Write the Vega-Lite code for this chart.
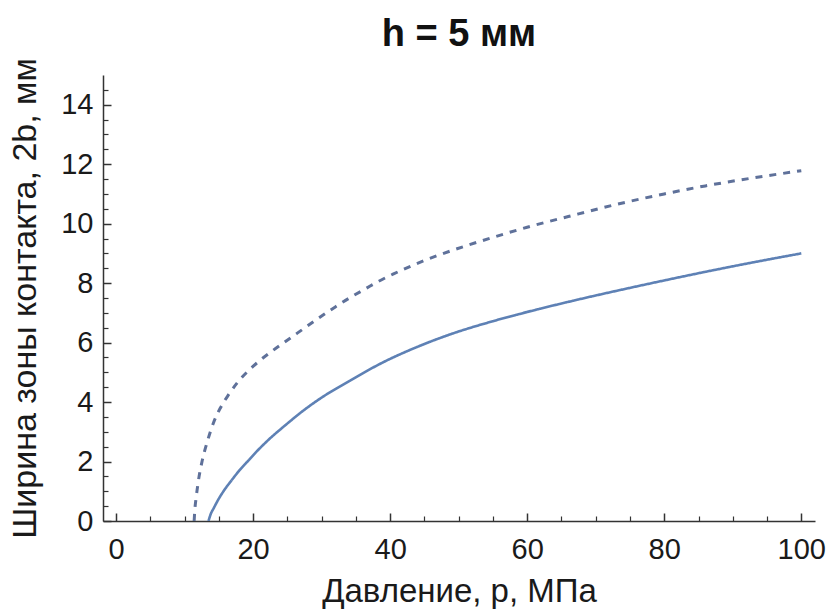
{
  "$schema": "https://vega.github.io/schema/vega-lite/v6.json",
  "width": 712,
  "height": 446,
  "autosize": {"type": "none"},
  "padding": {"left": 103, "top": 75, "right": 16, "bottom": 92},
  "background": "white",
  "title": {
    "text": "h = 5 мм",
    "font": "Liberation Sans",
    "fontSize": 38,
    "fontWeight": "bold",
    "color": "#111111",
    "anchor": "middle",
    "offset": 4
  },
  "config": {
    "view": {"stroke": null},
    "axis": {
      "labelFont": "Liberation Sans",
      "titleFont": "Liberation Sans",
      "labelColor": "#1a1a1a",
      "titleColor": "#1a1a1a",
      "domainColor": "#333333",
      "tickColor": "#333333",
      "grid": false
    }
  },
  "data": {
    "values": [
      {"p": 13.5, "b": 0, "s": "solid"},
      {"p": 13.8, "b": 0.22, "s": "solid"},
      {"p": 14.3, "b": 0.45, "s": "solid"},
      {"p": 14.9, "b": 0.71, "s": "solid"},
      {"p": 15.8, "b": 1.04, "s": "solid"},
      {"p": 16.9, "b": 1.38, "s": "solid"},
      {"p": 18, "b": 1.7, "s": "solid"},
      {"p": 19.3, "b": 2.03, "s": "solid"},
      {"p": 20.7, "b": 2.38, "s": "solid"},
      {"p": 22.2, "b": 2.72, "s": "solid"},
      {"p": 24.7, "b": 3.22, "s": "solid"},
      {"p": 27.6, "b": 3.76, "s": "solid"},
      {"p": 30, "b": 4.15, "s": "solid"},
      {"p": 34.2, "b": 4.73, "s": "solid"},
      {"p": 39, "b": 5.34, "s": "solid"},
      {"p": 43.9, "b": 5.85, "s": "solid"},
      {"p": 48.8, "b": 6.28, "s": "solid"},
      {"p": 55, "b": 6.72, "s": "solid"},
      {"p": 60, "b": 7.03, "s": "solid"},
      {"p": 66, "b": 7.37, "s": "solid"},
      {"p": 73.6, "b": 7.77, "s": "solid"},
      {"p": 80, "b": 8.09, "s": "solid"},
      {"p": 86, "b": 8.38, "s": "solid"},
      {"p": 93, "b": 8.7, "s": "solid"},
      {"p": 100, "b": 9.0, "s": "solid"},
      {"p": 11.4, "b": 0, "s": "dashed"},
      {"p": 11.5, "b": 0.37, "s": "dashed"},
      {"p": 11.7, "b": 0.8, "s": "dashed"},
      {"p": 12.0, "b": 1.32, "s": "dashed"},
      {"p": 12.6, "b": 2.05, "s": "dashed"},
      {"p": 13.4, "b": 2.73, "s": "dashed"},
      {"p": 14.2, "b": 3.29, "s": "dashed"},
      {"p": 15.2, "b": 3.79, "s": "dashed"},
      {"p": 16.4, "b": 4.24, "s": "dashed"},
      {"p": 17.7, "b": 4.65, "s": "dashed"},
      {"p": 19.3, "b": 5.05, "s": "dashed"},
      {"p": 21, "b": 5.4, "s": "dashed"},
      {"p": 22.8, "b": 5.72, "s": "dashed"},
      {"p": 24.5, "b": 6.0, "s": "dashed"},
      {"p": 26.4, "b": 6.31, "s": "dashed"},
      {"p": 29.8, "b": 6.86, "s": "dashed"},
      {"p": 32, "b": 7.2, "s": "dashed"},
      {"p": 34.2, "b": 7.52, "s": "dashed"},
      {"p": 36.4, "b": 7.81, "s": "dashed"},
      {"p": 38.3, "b": 8.06, "s": "dashed"},
      {"p": 40.5, "b": 8.31, "s": "dashed"},
      {"p": 42.7, "b": 8.54, "s": "dashed"},
      {"p": 44.9, "b": 8.75, "s": "dashed"},
      {"p": 47.3, "b": 8.96, "s": "dashed"},
      {"p": 51, "b": 9.25, "s": "dashed"},
      {"p": 55.3, "b": 9.56, "s": "dashed"},
      {"p": 60, "b": 9.88, "s": "dashed"},
      {"p": 66, "b": 10.24, "s": "dashed"},
      {"p": 73.6, "b": 10.68, "s": "dashed"},
      {"p": 80, "b": 11.0, "s": "dashed"},
      {"p": 86, "b": 11.27, "s": "dashed"},
      {"p": 93, "b": 11.54, "s": "dashed"},
      {"p": 100, "b": 11.78, "s": "dashed"}
    ]
  },
  "layer": [
    {
      "mark": {"type": "line", "clip": true, "interpolate": "monotone"},
      "encoding": {
        "x": {
          "field": "p", "type": "quantitative",
          "scale": {"domain": [-1.9, 102], "nice": false, "zero": false},
          "axis": {
            "values": [0, 20, 40, 60, 80, 100],
            "format": "d",
            "tickSize": -8,
            "tickWidth": 1.5,
            "domainWidth": 1.5,
            "labelFontSize": 29,
            "labelPadding": 22,
            "title": "Давление, р, МПа",
            "titleFontSize": 33,
            "titleFontWeight": "normal",
            "titlePadding": 11
          }
        },
        "y": {
          "field": "b", "type": "quantitative",
          "scale": {"domain": [0, 15], "nice": false},
          "axis": {
            "values": [0, 2, 4, 6, 8, 10, 12, 14],
            "format": "d",
            "tickSize": -8,
            "tickWidth": 1.5,
            "domainWidth": 1.5,
            "labelFontSize": 29,
            "labelPadding": 18,
            "title": "Ширина зоны контакта, 2b, мм",
            "titleFontSize": 34,
            "titleFontWeight": "normal",
            "titlePadding": 18
          }
        },
        "color": {
          "field": "s", "type": "nominal",
          "scale": {"domain": ["solid", "dashed"], "range": ["#5e81b5", "#5f719a"]},
          "legend": null
        },
        "strokeDash": {
          "field": "s", "type": "nominal",
          "scale": {"domain": ["solid", "dashed"], "range": [[1, 0], [7, 7]]},
          "legend": null
        },
        "strokeWidth": {
          "field": "s", "type": "nominal",
          "scale": {"domain": ["solid", "dashed"], "range": [2.6, 3]},
          "legend": null
        }
      }
    },
    {
      "mark": {"type": "point", "opacity": 0},
      "encoding": {
        "x": {
          "field": "p", "type": "quantitative",
          "axis": {
            "orient": "bottom",
            "values": [5, 10, 15, 25, 30, 35, 45, 50, 55, 65, 70, 75, 85, 90, 95],
            "labels": false,
            "domain": false,
            "tickSize": -5,
            "tickWidth": 1.2,
            "title": null
          }
        },
        "y": {
          "field": "b", "type": "quantitative",
          "axis": {
            "orient": "left",
            "values": [0.5, 1, 1.5, 2.5, 3, 3.5, 4.5, 5, 5.5, 6.5, 7, 7.5, 8.5, 9, 9.5, 10.5, 11, 11.5, 12.5, 13, 13.5, 14.5],
            "labels": false,
            "domain": false,
            "tickSize": -5,
            "tickWidth": 1.2,
            "title": null
          }
        }
      }
    }
  ],
  "resolve": {"axis": {"x": "independent", "y": "independent"}}
}
